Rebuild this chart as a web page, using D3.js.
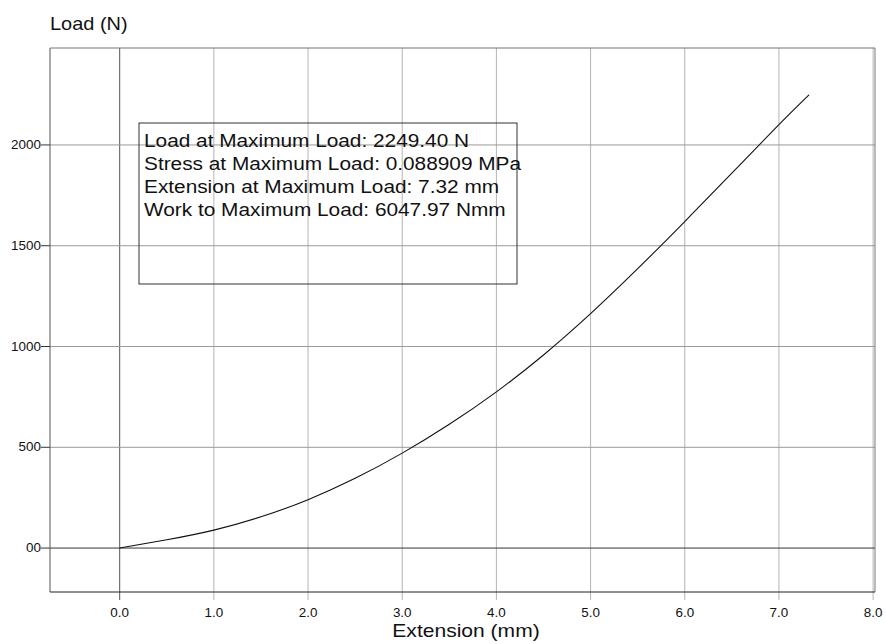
<!DOCTYPE html>
<html>
<head>
<meta charset="utf-8">
<script src="https://cdn.jsdelivr.net/npm/d3@7"></script>
<style>
  body { margin: 0; background: #fff; }
  text { font-family: "Liberation Sans", Arial, sans-serif; fill: #111; }
</style>
</head>
<body>
<div id="chart"></div>
<script>
// curve (extension mm, load N)
const extension = [0, 0.5, 1.0, 1.5, 2.0, 2.5, 3.0, 3.5, 4.0, 4.5, 5.0, 5.5, 6.0, 6.5, 7.0, 7.32];
const load = [0, 41, 89, 155, 240, 346, 471, 614, 775, 958, 1163, 1386, 1620, 1860, 2101, 2249];
const xTicks = [0, 1, 2, 3, 4, 5, 6, 7, 8];
const yTicks = [0, 500, 1000, 1500, 2000];
const yTickLabels = ["00", "500", "1000", "1500", "2000"];
const infoLines = [
    "Load at Maximum Load: 2249.40 N",
    "Stress at Maximum Load: 0.088909 MPa",
    "Extension at Maximum Load: 7.32 mm",
    "Work to Maximum Load: 6047.97 Nmm"
];

const W = 886, H = 644;
const margin = { top: 48, right: 11, bottom: 52, left: 50 };
const width = W - margin.left - margin.right;
const height = H - margin.top - margin.bottom;

const svg = d3.select("#chart").append("svg")
    .attr("width", W)
    .attr("height", H);

const g = svg.append("g")
    .attr("transform", `translate(${margin.left}, ${margin.top})`);

const xScale = d3.scaleLinear().domain([-0.74, 8.02]).range([0, width]);
const yScale = d3.scaleLinear().domain([-218, 2481]).range([height, 0]);

// text in the picture is drawn a bit wide, so stretch it horizontally
function wideText(sel, x, y, txt, size, stretch, anchor) {
    return sel.append("text")
        .attr("transform", `translate(${x}, ${y}) scale(${stretch}, 1)`)
        .attr("text-anchor", anchor || "start")
        .style("font-size", size + "px")
        .text(txt);
}

// vertical grid + ticks below the frame
g.selectAll(".vgrid")
    .data(xTicks)
    .enter()
    .append("line")
    .attr("x1", d => xScale(d))
    .attr("x2", d => xScale(d))
    .attr("y1", 0)
    .attr("y2", height + 8)
    .attr("stroke", d => d === 0 ? "#555" : "#b5b5b5")
    .attr("stroke-width", 1);

// horizontal grid
g.selectAll(".hgrid")
    .data(yTicks)
    .enter()
    .append("line")
    .attr("x1", 0)
    .attr("x2", width)
    .attr("y1", d => yScale(d))
    .attr("y2", d => yScale(d))
    .attr("stroke", d => d === 0 ? "#333" : "#9a9a9a")
    .attr("stroke-width", 1);

g.selectAll(".ytick")
    .data(yTicks)
    .enter()
    .append("line")
    .attr("x1", -9)
    .attr("x2", 0)
    .attr("y1", d => yScale(d))
    .attr("y2", d => yScale(d))
    .attr("stroke", "#333");

// frame
g.append("line").attr("x1", 0).attr("x2", width).attr("y1", 0).attr("y2", 0).attr("stroke", "#777");
g.append("line").attr("x1", width).attr("x2", width).attr("y1", 0).attr("y2", height).attr("stroke", "#777");
g.append("line").attr("x1", 0).attr("x2", 0).attr("y1", 0).attr("y2", height).attr("stroke", "#555");
g.append("line").attr("x1", 0).attr("x2", width).attr("y1", height).attr("y2", height).attr("stroke", "#222");

// tick labels
xTicks.forEach(d => {
    wideText(g, xScale(d), height + 25, d3.format(".1f")(d), 12, 1.12, "middle");
});
yTicks.forEach((d, i) => {
    wideText(g, -9, yScale(d) + 4, yTickLabels[i], 12, 1.12, "end");
});

// axis titles
wideText(svg, margin.left, 30, "Load (N)", 17.5, 1.14);
wideText(svg, 466, 637, "Extension (mm)", 18, 1.17, "middle");

// the curve
const pts = extension.map((e, i) => [e, load[i]]);
const line = d3.line()
    .x(d => xScale(d[0]))
    .y(d => yScale(d[1]))
    .curve(d3.curveNatural);

g.append("path")
    .datum(pts)
    .attr("d", line)
    .attr("fill", "none")
    .attr("stroke", "#111")
    .attr("stroke-width", 1.1);

// results box
const box = { x: 89, y: 75, w: 378, h: 161 };
g.append("rect")
    .attr("x", box.x)
    .attr("y", box.y)
    .attr("width", box.w)
    .attr("height", box.h)
    .attr("fill", "none")
    .attr("stroke", "#333");

infoLines.forEach((t, i) => {
    wideText(g, box.x + 5, box.y + 23.5 + i * 23, t, 17.5, 1.19);
});
</script>
</body>
</html>
